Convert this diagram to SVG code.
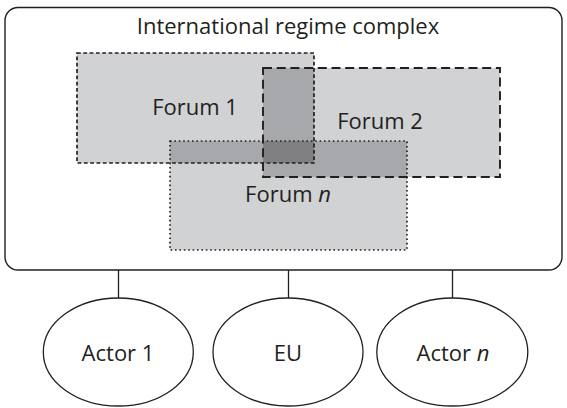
<svg xmlns="http://www.w3.org/2000/svg" width="567" height="408" viewBox="0 0 567 408">
<style>
text{font-family:"Open Sans","Noto Sans","Liberation Sans",sans-serif;font-size:22px;fill:#231f20;text-anchor:middle}
.f1{fill:#d1d2d4}
.o2{fill:#a7a8ab}
.o3{fill:#808083}
.b{fill:none;stroke:#231f20}
.line{stroke:#231f20;stroke-width:1.3;fill:none}
.ell{fill:#fff;stroke:#231f20;stroke-width:1.3}
</style>
<g id="regime-complex">
<rect x="5" y="7.5" width="557" height="262.5" rx="13" fill="#fff" stroke="#231f20" stroke-width="1.4"/>
<text x="288" y="33.5">International regime complex</text>
</g>
<g id="forum-fills">
<rect class="f1" x="77" y="53" width="237" height="110"/>
<rect class="f1" x="263" y="68" width="237" height="109"/>
<rect class="f1" x="170" y="141" width="237" height="109"/>
<rect class="o2" x="263" y="68" width="51" height="95"/>
<rect class="o2" x="170" y="141" width="144" height="22"/>
<rect class="o2" x="263" y="141" width="144" height="36"/>
<rect class="o3" x="263" y="141" width="51" height="22"/>
</g>
<g id="forum-1">
<rect class="b" x="77" y="53" width="237" height="110" stroke-width="1.7" stroke-dasharray="3.8 2.5"/>
<text x="195" y="114.5">Forum 1</text>
</g>
<g id="forum-2">
<rect class="b" x="263" y="68" width="237" height="109" stroke-width="1.9" stroke-dasharray="9 4.7"/>
<text x="380" y="128.5">Forum 2</text>
</g>
<g id="forum-n">
<rect class="b" x="170" y="141" width="237" height="109" stroke-width="1.7" stroke-dasharray="1.6 2.8"/>
<text x="288" y="201.5">Forum <tspan font-style="italic">n</tspan></text>
</g>
<g id="connectors">
<line class="line" x1="118.5" y1="270" x2="118.5" y2="298"/>
<line class="line" x1="288.5" y1="270" x2="288.5" y2="298"/>
<line class="line" x1="452.5" y1="270" x2="452.5" y2="298"/>
</g>
<g id="actor-1">
<ellipse class="ell" cx="118.3" cy="352" rx="75" ry="54"/>
<text x="118" y="360.5">Actor 1</text>
</g>
<g id="eu">
<ellipse class="ell" cx="288" cy="352" rx="75" ry="54"/>
<text x="288" y="360.5">EU</text>
</g>
<g id="actor-n">
<ellipse class="ell" cx="452.3" cy="352" rx="75.5" ry="54"/>
<text x="453" y="360.5">Actor <tspan font-style="italic">n</tspan></text>
</g>
</svg>
